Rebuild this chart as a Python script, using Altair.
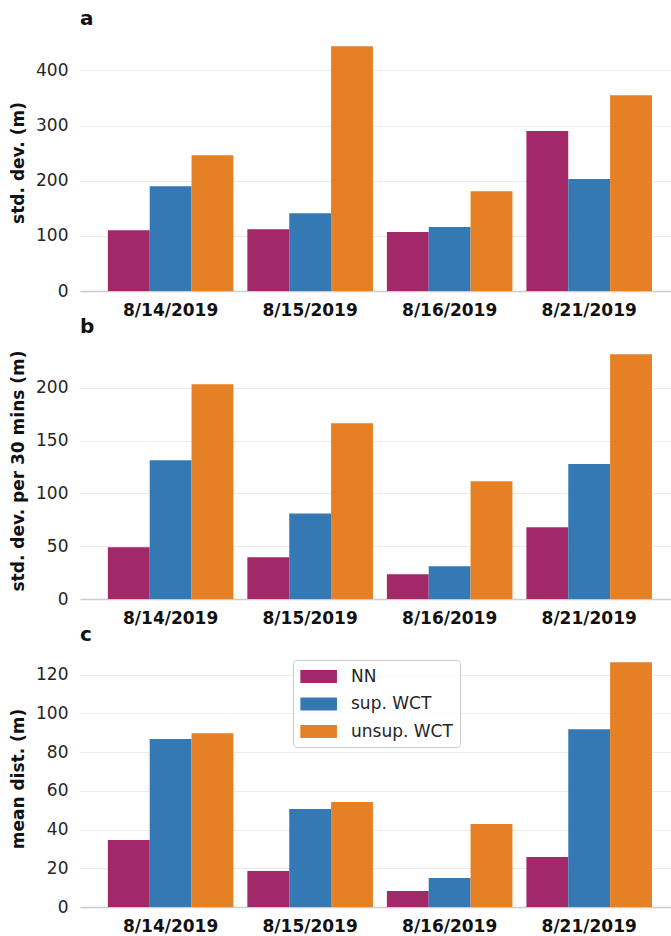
import altair as alt
import pandas as pd

# Categories
dates = ["8/14/2019", "8/15/2019", "8/16/2019", "8/21/2019"]
methods = ["NN", "sup. WCT", "unsup. WCT"]
palette = ["#a3286a", "#3579b4", "#e68024"]

# (a) standard deviation (m)
std_nn = [110, 112, 107, 290]
std_sup = [190, 141, 116, 203]
std_unsup = [246, 444, 181, 355]

# (b) standard deviation per 30 mins (m)
std30_nn = [49, 39.5, 23.5, 68]
std30_sup = [131.5, 81, 31, 128]
std30_unsup = [203.5, 166.5, 111.5, 232]

# (c) mean distance (m)
dist_nn = [34.6, 18.6, 8.3, 25.8]
dist_sup = [86.8, 50.6, 15.0, 91.9]
dist_unsup = [89.8, 54.2, 42.9, 126.5]

FONT = "DejaVu Sans"
PLOT_W = 591
PLOT_H = 257


def long_table(nn, sup, unsup):
    rows = []
    for series, vals in zip(methods, [nn, sup, unsup]):
        for d, v in zip(dates, vals):
            rows.append({"date": d, "method": series, "value": v})
    return pd.DataFrame(rows)


def panel(letter, ytitle, nn, sup, unsup, ymax, yticks, show_legend=False):
    df = long_table(nn, sup, unsup)
    if show_legend:
        legend = alt.Legend(
            title=None,
            orient="none",
            legendX=213,
            legendY=10,
            direction="vertical",
            labelFont=FONT,
            labelFontSize=17,
            labelColor="#262626",
            # wide flat swatch drawn to the right of the entry origin
            symbolType="M-1,-0.7L3,-0.7L3,0.7L-1,0.7Z",
            symbolSize=335,
            symbolStrokeWidth=0,
            symbolOpacity=1,
            labelOffset=32,
            rowPadding=9.5,
            padding=7,
            strokeColor="#cccccc",
            fillColor="rgba(255,255,255,0.8)",
            cornerRadius=3,
        )
    else:
        legend = None
    return (
        alt.Chart(df)
        .mark_bar()
        .encode(
            x=alt.X(
                "date:N",
                sort=dates,
                scale=alt.Scale(paddingInner=0.1, paddingOuter=0.168, align=0.594),
                axis=alt.Axis(
                    title=None,
                    labelAngle=0,
                    labelFont=FONT,
                    labelFontSize=17,
                    labelFontWeight="bold",
                    labelColor="#111111",
                    labelPadding=11,
                    ticks=False,
                    domain=True,
                    domainColor="#cccccc",
                    domainWidth=1.5,
                    grid=False,
                ),
            ),
            xOffset=alt.XOffset(
                "method:N", sort=methods, scale=alt.Scale(paddingInner=0, paddingOuter=0)
            ),
            y=alt.Y(
                "value:Q",
                scale=alt.Scale(domain=[0, ymax], nice=False, zero=True),
                axis=alt.Axis(
                    title=ytitle,
                    values=yticks,
                    format="d",
                    labelFont=FONT,
                    labelFontSize=17,
                    labelColor="#262626",
                    labelPadding=12,
                    ticks=False,
                    domain=False,
                    grid=True,
                    gridColor="#ebebeb",
                    gridWidth=1,
                    titleFont=FONT,
                    titleFontSize=17,
                    titleFontWeight="bold",
                    titleColor="#111111",
                    titlePadding=8,
                ),
            ),
            color=alt.Color(
                "method:N",
                sort=methods,
                scale=alt.Scale(domain=methods, range=palette),
                legend=legend,
            ),
        )
        .properties(
            width=PLOT_W,
            height=PLOT_H,
            title=alt.TitleParams(
                letter,
                anchor="start",
                frame="group",
                font=FONT,
                fontSize=20,
                fontWeight="bold",
                color="#111111",
                baseline="alphabetic",
                offset=-11,
            ),
        )
    )


chart_a = panel("a", "std. dev. (m)", std_nn, std_sup, std_unsup, 466, [0, 100, 200, 300, 400])
chart_b = panel(
    "b", "std. dev. per 30 mins (m)", std30_nn, std30_sup, std30_unsup, 243.6, [0, 50, 100, 150, 200]
)
chart_c = panel(
    "c", "mean dist. (m)", dist_nn, dist_sup, dist_unsup, 132.8, [0, 20, 40, 60, 80, 100, 120],
    show_legend=True,
)

chart = (
    alt.vconcat(chart_a, chart_b, chart_c, spacing=51, bounds="flush")
    .resolve_legend(color="independent")
    .properties(padding={"left": 9, "top": 9, "right": 0, "bottom": 5})
    .configure(background="white")
    .configure_view(stroke=None)
)

chart.save("out.html", embed_options={"renderer": "svg", "actions": False})
